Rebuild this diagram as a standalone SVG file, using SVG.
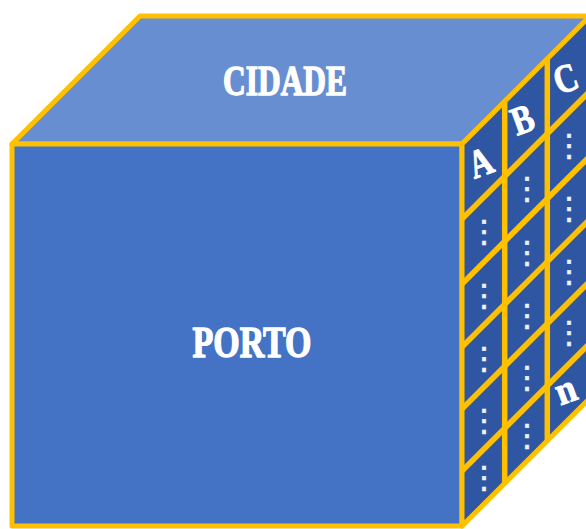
<svg xmlns="http://www.w3.org/2000/svg" width="586" height="529" viewBox="0 0 586 529">
  <style>
    .edge { stroke: #FFC000; stroke-width: 5; stroke-linejoin: round; }
    .grid { stroke: #FFC000; stroke-width: 5.5; stroke-linecap: butt; fill: none; }
    .face-label { font-family: "Liberation Serif", "DejaVu Serif", serif; font-weight: bold; fill: #FFFFFF; stroke: #FFFFFF; stroke-width: 1.4; text-anchor: middle; }
    .cell-letter { font-family: "Liberation Serif", "DejaVu Serif", serif; font-weight: bold; font-size: 40px; fill: #FFFFFF; stroke: #FFFFFF; stroke-width: 1; text-anchor: middle; }
    .dots { font-family: "DejaVu Sans", sans-serif; font-size: 31px; fill: #EEF3FF; stroke: #EEF3FF; stroke-width: 0.6; text-anchor: middle; }
  </style>

  <!-- top face of the cube -->
  <g id="top-face">
    <polygon class="edge" points="12,144 140,16 592,16 462,144" fill="#688ED2"/>
    <text class="face-label" x="285" y="95" font-size="42" textLength="124" lengthAdjust="spacingAndGlyphs">CIDADE</text>
  </g>

  <!-- front face of the cube -->
  <g id="front-face">
    <rect class="edge" x="12" y="144" width="450" height="382" fill="#4472C4"/>
    <text class="face-label" x="252" y="357" font-size="44" textLength="119" lengthAdjust="spacingAndGlyphs">PORTO</text>
  </g>

  <!-- right face: 3 columns x 6 rows of cells -->
  <g id="side-face">
    <polygon class="edge" points="462,144 590,16 590,398 462,526" fill="#2E56A3"/>
    <g class="grid">
      <!-- row dividers, receding at 45 degrees -->
      <line x1="462" y1="219" x2="590" y2="91"/>
      <line x1="462" y1="284" x2="590" y2="156"/>
      <line x1="462" y1="347" x2="590" y2="219"/>
      <line x1="462" y1="409" x2="590" y2="281"/>
      <line x1="462" y1="471" x2="590" y2="343"/>
      <!-- column dividers -->
      <line x1="504.7" y1="101.3" x2="504.7" y2="483.3"/>
      <line x1="547.3" y1="58.7" x2="547.3" y2="440.7"/>
    </g>
  </g>

  <!-- column A -->
  <g id="column-a">
    <text class="cell-letter" transform="translate(485,175) rotate(-20) scale(0.8,1)">A</text>
    <text class="dots" x="484" y="242">⋮</text>
    <text class="dots" x="484" y="306">⋮</text>
    <text class="dots" x="484" y="369">⋮</text>
    <text class="dots" x="484" y="431">⋮</text>
    <text class="dots" x="484" y="488">⋮</text>
  </g>

  <!-- column B -->
  <g id="column-b">
    <text class="cell-letter" transform="translate(527,132) rotate(-20) scale(0.8,1)">B</text>
    <text class="dots" x="527" y="199">⋮</text>
    <text class="dots" x="527" y="263">⋮</text>
    <text class="dots" x="527" y="326">⋮</text>
    <text class="dots" x="527" y="388">⋮</text>
    <text class="dots" x="527" y="446">⋮</text>
  </g>

  <!-- column C -->
  <g id="column-c">
    <text class="cell-letter" transform="translate(570,91) rotate(-20) scale(0.8,1)">C</text>
    <text class="dots" x="569" y="156">⋮</text>
    <text class="dots" x="569" y="219">⋮</text>
    <text class="dots" x="569" y="282">⋮</text>
    <text class="dots" x="569" y="343">⋮</text>
    <text class="cell-letter" transform="translate(570,402) rotate(-20) scale(0.9,1)">n</text>
  </g>
</svg>
